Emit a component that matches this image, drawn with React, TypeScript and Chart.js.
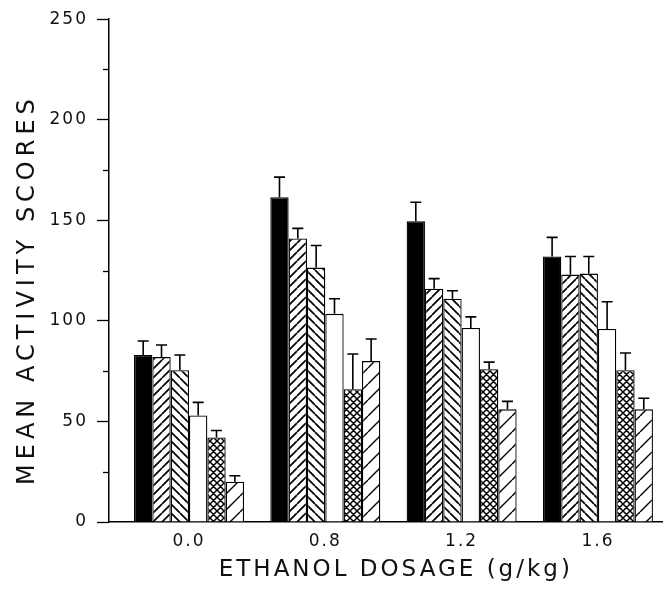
import React, { useEffect, useRef } from "react";
import { Chart, registerables } from "chart.js";

Chart.register(...registerables);

const categories = ["0.0", "0.8", "1.2", "1.6"];
const categoryX = [0, 1, 2, 3];
const seriesNames = ["Group 1", "Group 2", "Group 3", "Group 4", "Group 5", "Group 6"];

const solidMeans = [83, 161.5, 149.5, 132];
const solidSem = [7, 10, 9.5, 9.5];
const denseHatchMeans = [82, 141, 116, 123];
const denseHatchSem = [6, 5, 5, 9];
const backHatchMeans = [75.5, 126.5, 111, 123.5];
const backHatchSem = [7.5, 11, 4, 8.5];
const openMeans = [53, 103.5, 96.5, 96];
const openSem = [6.5, 7.5, 5.5, 13.5];
const crossMeans = [42, 66, 76, 75.5];
const crossSem = [3.5, 17.5, 3.5, 8.5];
const sparseMeans = [20, 80, 56, 56];
const sparseSem = [3, 11, 4, 5.5];

const yTicks = [0, 25, 50, 75, 100, 125, 150, 175, 200, 225, 250];

const FONT = "'DejaVu Sans', 'Liberation Sans', sans-serif";

function makeTile(size: number, kind: "fwd" | "back" | "cross", lw: number) {
  const c = document.createElement("canvas");
  c.width = size;
  c.height = size;
  const g = c.getContext("2d")!;
  g.fillStyle = "#fff";
  g.fillRect(0, 0, size, size);
  g.strokeStyle = "#000";
  g.lineWidth = lw;
  g.beginPath();
  for (let k = -1; k <= 1; k++) {
    if (kind === "fwd" || kind === "cross") {
      g.moveTo(k * size, size);
      g.lineTo(k * size + size, 0);
    }
    if (kind === "back" || kind === "cross") {
      g.moveTo(k * size, 0);
      g.lineTo(k * size + size, size);
    }
  }
  g.stroke();
  return c;
}

function withTitleSpacing(scale: any, spacing: string) {
  if (scale.__spaced) return;
  scale.__spaced = true;
  const orig = scale.drawTitle;
  scale.drawTitle = function (...args: any[]) {
    const c = this.ctx;
    const prev = c.letterSpacing;
    c.letterSpacing = spacing;
    orig.apply(this, args);
    c.letterSpacing = prev;
  };
}

export default function App() {
  const ref = useRef<HTMLCanvasElement | null>(null);

  useEffect(() => {
    document.body.style.margin = "0";
    const canvas = ref.current!;
    const ctx = canvas.getContext("2d")!;
    const pat = (size: number, kind: "fwd" | "back" | "cross", lw: number) =>
      ctx.createPattern(makeTile(size, kind, lw), "repeat")!;

    const means = [solidMeans, denseHatchMeans, backHatchMeans, openMeans, crossMeans, sparseMeans];
    const sems = [solidSem, denseHatchSem, backHatchSem, openSem, crossSem, sparseSem];
    const fills: any[] = [
      "#000",
      pat(9, "fwd", 1.7),
      pat(9, "back", 1.7),
      "#fff",
      pat(7, "cross", 1.5),
      pat(16, "fwd", 1.4),
    ];

    const spacing = {
      id: "spacing",
      beforeLayout(chart: any) {
        chart.ctx.letterSpacing = "2px";
      },
      beforeDraw(chart: any) {
        chart.ctx.letterSpacing = "2px";
      },
    };

    const errorBars = {
      id: "errorBars",
      afterDatasetsDraw(chart: any) {
        const c = chart.ctx;
        const y = chart.scales.y;
        c.save();
        c.strokeStyle = "#000";
        c.lineWidth = 1.6;
        means.forEach((arr, i) => {
          const meta = chart.getDatasetMeta(i);
          meta.data.forEach((bar: any, j: number) => {
            const top = y.getPixelForValue(arr[j] + sems[i][j]);
            c.beginPath();
            c.moveTo(bar.x, bar.y);
            c.lineTo(bar.x, top);
            c.moveTo(bar.x - 5.5, top);
            c.lineTo(bar.x + 5.5, top);
            c.stroke();
          });
        });
        c.restore();
      },
      afterDraw(chart: any) {
        const c = chart.ctx;
        const y = chart.scales.y;
        const left = chart.chartArea.left;
        c.save();
        c.strokeStyle = "#000";
        c.lineWidth = 1.3;
        yTicks
          .filter((v) => v % 50 !== 0)
          .forEach((v) => {
            const py = Math.round(y.getPixelForValue(v)) + 0.5;
            c.beginPath();
            c.moveTo(left - 6, py);
            c.lineTo(left, py);
            c.stroke();
          });
        c.restore();
      },
    };

    const chart = new Chart(canvas, {
      type: "bar",
      data: {
        datasets: means.map((arr, i) => ({
          label: seriesNames[i],
          data: arr.map((v, j) => ({ x: categoryX[j], y: v })),
          backgroundColor: fills[i],
          borderColor: "#000",
          borderWidth: 1.3,
          categoryPercentage: 0.807,
          barPercentage: 1,
        })),
      },
      options: {
        responsive: false,
        animation: false,
        devicePixelRatio: 1,
        layout: { padding: { top: 16, right: 6, left: 0, bottom: 0 } },
        plugins: {
          legend: { display: false },
          tooltip: { enabled: false },
        },
        scales: {
          x: {
            type: "linear",
            offset: false,
            min: -0.587,
            max: 3.47,
            afterBuildTicks: (scale: any) => {
              scale.ticks = categoryX.map((v) => ({ value: v }));
            },
            afterFit: (scale: any) => {
              scale.height = 67;
              withTitleSpacing(scale, "3px");
            },
            grid: { display: false, drawTicks: false, offset: false },
            border: { display: true, color: "#000", width: 1.5 },
            ticks: {
              padding: 9,
              color: "#111",
              font: { family: FONT, size: 17 },
              callback: (v: any) => categories[Math.round(Number(v))] ?? "",
            },
            title: {
              display: true,
              text: "  ETHANOL DOSAGE (g/kg)",
              color: "#111",
              font: { family: FONT, size: 23 },
              padding: { top: 0, bottom: 5 },
            },
          },
          y: {
            min: 0,
            max: 250,
            afterBuildTicks: (scale: any) => {
              scale.ticks = yTicks.map((v) => ({ value: v }));
            },
            afterFit: (scale: any) => {
              scale.width = 109;
              withTitleSpacing(scale, "5px");
            },
            grid: {
              display: true,
              drawOnChartArea: false,
              drawTicks: true,
              tickLength: 12,
              tickWidth: 1.3,
              tickColor: (c: any) =>
                c.tick && c.tick.value % 50 === 0 ? "#000" : "rgba(0,0,0,0)",
            },
            border: { display: true, color: "#000", width: 1.5 },
            ticks: {
              padding: 9,
              color: "#111",
              autoSkip: false,
              font: { family: FONT, size: 17 },
              callback: (v: any) => (Number(v) % 50 === 0 ? String(v) : ""),
            },
            title: {
              display: true,
              text: "MEAN ACTIVITY SCORES   ",
              color: "#111",
              font: { family: FONT, size: 24 },
              padding: { top: 13, bottom: 0 },
            },
          },
        },
      },
      plugins: [spacing, errorBars],
    } as any);

    return () => chart.destroy();
  }, []);

  return (
    <div style={{ width: 668, height: 589 }}>
      <canvas ref={ref} width={668} height={589} style={{ display: "block" }} />
    </div>
  );
}
